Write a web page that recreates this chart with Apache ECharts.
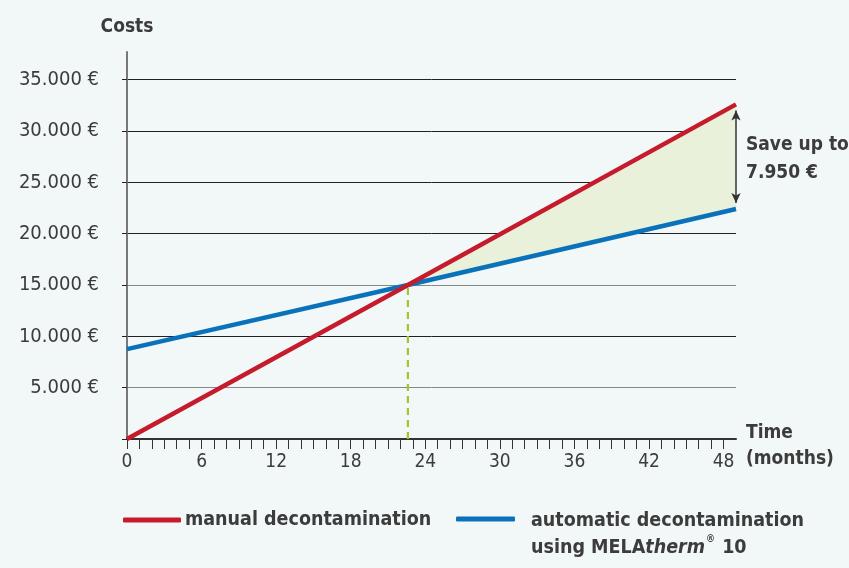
<!DOCTYPE html>
<html><head><meta charset="utf-8">
<script src="https://cdn.jsdelivr.net/npm/echarts@6/dist/echarts.min.js"></script>
<style>html,body{margin:0;padding:0;background:#f2f7f7}#c{width:849px;height:568px}</style>
</head><body><div id="c"></div>
<script>
// months at which the lines are sampled (start, break-even, end)
const months = [0, 22.6, 49];
const manualCosts = [0, 15000, 32600];
const automaticCosts = [8750, 15000, 22400];
const yTicks = [0, 5000, 10000, 15000, 20000, 25000, 30000, 35000];
const yLabelTicks = [5000, 10000, 15000, 20000, 25000, 30000, 35000];
const xTicks = Array.from({length: 49}, (_, i) => i);
const xLabelTicks = [0, 6, 12, 18, 24, 30, 36, 42, 48];
const seriesNames = ['manual decontamination', 'automatic decontamination using MELAtherm® 10'];
const savingText = ['Save up to', '7.950 €'];

const F = '"DejaVu Sans Condensed", "DejaVu Sans", sans-serif';
const txt = '#3c3c3c';
const manualPts = months.map((m, i) => [m, manualCosts[i]]);
const autoPts = months.map((m, i) => [m, automaticCosts[i]]);
const be = 1; // break-even index
const last = months.length - 1;
// segments of the saving area between the two lines (after break-even)
const fillSegs = [];
for (let i = be; i < last; i++) {
  fillSegs.push([months[i], months[i + 1], manualCosts[i], manualCosts[i + 1], automaticCosts[i], automaticCosts[i + 1]]);
}

const chart = echarts.init(document.getElementById('c'));
chart.setOption({
  backgroundColor: '#f2f7f7',
  animation: false,
  textStyle: {fontFamily: F},
  grid: {left: 127, right: 113, top: 52, bottom: 129},
  xAxis: {
    type: 'value', min: 0, max: 49, interval: 1,
    name: '{sp|}\n{a|Time}\n{a|(months)}', nameLocation: 'end', nameGap: 10,
    nameTextStyle: {color: txt, fontSize: 19, fontWeight: 'bold', fontFamily: F, align: 'left', verticalAlign: 'middle',
      rich: {sp: {lineHeight: 14, fontSize: 10}, a: {lineHeight: 26, fontSize: 19, fontWeight: 'bold', color: txt, fontFamily: F}}},
    axisLine: {show: true, lineStyle: {color: '#333', width: 2}},
    axisTick: {show: true, length: 10, customValues: xTicks, lineStyle: {color: '#333', width: 1}},
    axisLabel: {customValues: xLabelTicks, color: txt, fontSize: 19, fontFamily: F, margin: 14},
    splitLine: {show: false}
  },
  yAxis: {
    type: 'value', min: 0, max: 37700, interval: 5000,
    name: 'Costs', nameLocation: 'end', nameGap: 15,
    nameTextStyle: {color: txt, fontSize: 19, fontWeight: 'bold', fontFamily: F, align: 'center'},
    axisLine: {show: true, lineStyle: {color: '#777', width: 2}},
    axisTick: {show: true, length: 5, customValues: yTicks, lineStyle: {color: '#222', width: 1}},
    axisLabel: {customValues: yLabelTicks, color: txt, fontSize: 20, fontFamily: F, margin: 28,
      formatter: v => v.toLocaleString('de-DE') + ' €'},
    splitLine: {show: true, lineStyle: {width: 1, color: ['#222', '#888', '#222', '#888', '#222', '#222', '#222', '#222']}}
  },
  legend: [
    {left: 118, top: 505, data: [seriesNames[0]], itemWidth: 58, itemHeight: 5, icon: 'roundRect',
      textStyle: {color: txt, fontSize: 19.5, fontWeight: 'bold', fontFamily: F, padding: [0, 0, 0, -1]}},
    {left: 451, top: 506, data: [seriesNames[1]], itemWidth: 59, itemHeight: 5, icon: 'roundRect',
      formatter: () => '{a|automatic decontamination}\n{a|using MELA}{i|therm}{s|®}{a| 10}',
      textStyle: {color: txt, fontSize: 19.5, fontWeight: 'bold', fontFamily: F, padding: [31, 0, 0, 11],
        rich: {a: {fontSize: 19.5, fontWeight: 'bold', color: txt, lineHeight: 27, fontFamily: F},
               i: {fontSize: 19.5, fontWeight: 'bold', fontStyle: 'italic', color: txt, lineHeight: 27, fontFamily: F},
               s: {fontSize: 10, fontWeight: 'bold', color: txt, verticalAlign: 'top', lineHeight: 27, padding: [0, 1, 8, 1], fontFamily: F}}}}
  ],
  series: [
    {type: 'custom', name: 'saving', data: fillSegs, silent: true, z: 1,
      renderItem: (params, api) => {
        const p1 = api.coord([api.value(0), api.value(2)]);
        const p2 = api.coord([api.value(1), api.value(3)]);
        const p3 = api.coord([api.value(1), api.value(5)]);
        const p4 = api.coord([api.value(0), api.value(4)]);
        return {type: 'polygon', shape: {points: [p1, p2, p3, p4]}, style: {fill: '#e9f1da'}};
      },
      encode: {x: [0, 1], y: [2, 3, 4, 5]}},
    {type: 'line', name: 'breakeven', data: [[months[be], 0], [months[be], manualCosts[be]]], symbol: 'none',
      lineStyle: {color: '#a2c62a', width: 2.2, type: [7, 5]}, z: 2},
    {type: 'line', name: seriesNames[1], data: autoPts, symbol: 'none', color: '#0a72ba',
      lineStyle: {color: '#0a72ba', width: 4.5}, z: 4},
    {type: 'line', name: seriesNames[0], data: manualPts, symbol: 'none', color: '#c61b2c',
      lineStyle: {color: '#c61b2c', width: 4.5}, z: 5,
      markLine: {silent: true, symbol: ['arrow', 'arrow'], symbolSize: [7, 10], animation: false,
        lineStyle: {color: '#333', width: 1.5, type: 'solid'}, label: {show: false},
        data: [[{coord: [months[last], manualCosts[last] - 600]}, {coord: [months[last], automaticCosts[last] + 600]}]]}}
  ],
  graphic: [{type: 'text', left: 746, top: 131,
    style: {text: savingText.join('\n'), fill: txt, font: 'bold 19px "DejaVu Sans Condensed", "DejaVu Sans"', lineHeight: 28}}]
});
</script></body></html>
